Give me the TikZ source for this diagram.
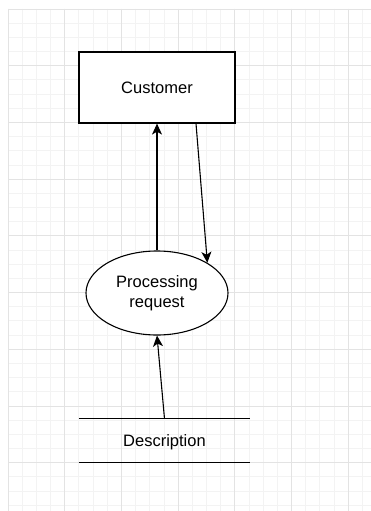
\documentclass[tikz,border=0pt]{standalone}
\usepackage{fontspec}
\setmainfont{Liberation Sans}
\usetikzlibrary{arrows.meta,shapes.geometric}
\definecolor{gridminor}{HTML}{F3F3F3}
\definecolor{gridmajor}{HTML}{E3E3E3}

\begin{document}
\begin{tikzpicture}[x=1pt,y=-1pt,
        font=\fontsize{16.5}{20}\selectfont,
        entity/.style={draw,line width=1.2pt,minimum width=156pt,minimum height=71pt},
        process/.style={draw,ellipse,line width=1.1pt,minimum width=142pt,minimum height=84pt,align=center,inner sep=0pt},
        datastore/.style={minimum width=171pt,minimum height=43pt,inner sep=0pt,text depth=0pt},
        flow/.style={-{Stealth[length=11pt,width=10pt,inset=3pt]},line width=1.1pt}]
        \useasboundingbox (0,0) rectangle (371,511);
        \fill[white] (0,0) rectangle (371,511);
        % background grid
        \foreach \i in {0,...,25} {
          \draw[gridminor,line width=0.8pt] (8+\i*14.175,9) -- (8+\i*14.175,511);
        }
        \foreach \i in {0,...,35} {
          \draw[gridminor,line width=0.8pt] (8,9+\i*14.175) -- (371,9+\i*14.175);
        }
        \foreach \i in {0,...,6} {
          \draw[gridmajor,line width=0.8pt] (8+\i*56.7,9) -- (8+\i*56.7,511);
        }
        \foreach \i in {0,...,8} {
          \draw[gridmajor,line width=0.8pt] (8,9+\i*56.7) -- (371,9+\i*56.7);
        }
        % diagram
        \node[entity,fill=white] (cust) at (157,87.5) {Customer};
        \node[process,fill=white] (proc) at (157,293) {Processing\\request};
        \node[datastore] (store) at (164.5,440.5) {Description};
        \draw[line width=1.1pt] (store.north west) -- (store.north east);
        \draw[line width=1.1pt] (store.south west) -- (store.south east);
        \draw[flow] (proc.north) -- (cust.south);
        \draw[flow] ([xshift=39pt]cust.south) -- (proc.31);
        \draw[flow] (store.north) -- (proc.south);
\end{tikzpicture}
\end{document}
